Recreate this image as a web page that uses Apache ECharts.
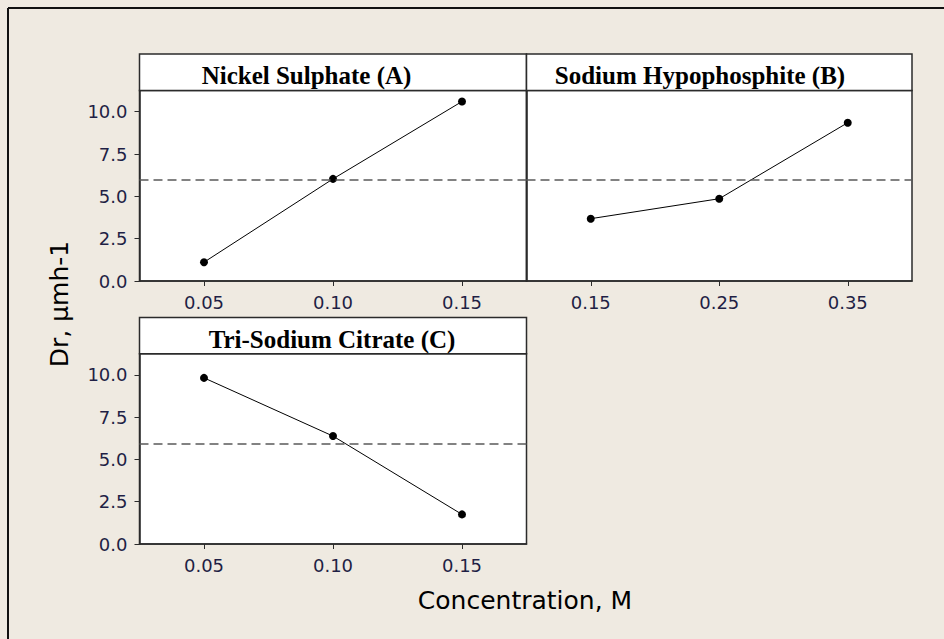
<!DOCTYPE html>
<html>
<head>
<meta charset="utf-8">
<script src="https://cdn.jsdelivr.net/npm/echarts@6/dist/echarts.min.js"></script>
<style>
html,body{margin:0;padding:0;background:#efeae1;}
#chart{width:944px;height:639px;}
</style>
</head>
<body>
<div id="chart"></div>
<script>
// ---- data ----
const panelTitles = ['Nickel Sulphate (A)', 'Sodium Hypophosphite (B)', 'Tri-Sodium Citrate (C)'];
const xA = [0.05, 0.10, 0.15];
const yA = [1.11, 6.03, 10.60];
const xB = [0.15, 0.25, 0.35];
const yB = [3.68, 4.86, 9.35];
const xC = [0.05, 0.10, 0.15];
const yC = [9.82, 6.38, 1.75];
const xTicksA = [0.05, 0.10, 0.15];
const xTicksB = [0.15, 0.25, 0.35];
const xTicksC = [0.05, 0.10, 0.15];
const yTicks = [0, 2.5, 5, 7.5, 10];
const yAxisTitle = 'Dr, μmh-1';
const xAxisTitle = 'Concentration, M';
const allValues = yA.concat(yB, yC);
const grandMean = allValues.reduce((s, v) => s + v, 0) / allValues.length;

// ---- styling / layout ----
const frameColor = '#2b2b2b';
const tickColor = '#1f1f45';
const sansFont = '"DejaVu Sans", sans-serif';
const serifFont = '"Liberation Serif", "Times New Roman", serif';

const grids = [
  {left: 139.5, top: 90.5, width: 387, height: 190.5},
  {left: 526.5, top: 90.5, width: 385.5, height: 190.5},
  {left: 139.5, top: 353.7, width: 387, height: 190.3}
];
const headers = [
  {x: 139.5, y: 54, w: 387, h: 36.5, cx: 306.5, ty: 75.5},
  {x: 526.5, y: 54, w: 385.5, h: 36.5, cx: 700, ty: 75.5},
  {x: 139.5, y: 317.5, w: 387, h: 36.2, cx: 332, ty: 339}
];

function pairs(xs, ys) { return xs.map((x, i) => [x, ys[i]]); }

function makeX(idx, min, max, ticks) {
  return {
    type: 'value', gridIndex: idx, min: min, max: max,
    splitLine: {show: false},
    axisLine: {show: true, onZero: false, lineStyle: {color: frameColor, width: 1.5}},
    axisTick: {show: true, length: 5, customValues: ticks, lineStyle: {color: frameColor, width: 1}},
    axisLabel: {show: true, customValues: ticks, margin: 12, color: tickColor,
      fontFamily: sansFont, fontSize: 18, formatter: v => Number(v).toFixed(2)}
  };
}
function makeY(idx, showLabels) {
  return {
    type: 'value', gridIndex: idx, min: 0, max: 11.25,
    splitLine: {show: false},
    axisLine: {show: true, onZero: false, lineStyle: {color: frameColor, width: 1.5}},
    axisTick: {show: showLabels, length: 5, customValues: yTicks, lineStyle: {color: frameColor, width: 1}},
    axisLabel: {show: showLabels, customValues: yTicks, margin: 12, color: tickColor,
      fontFamily: sansFont, fontSize: 18, formatter: v => Number(v).toFixed(1)}
  };
}
function makeSeries(idx, data) {
  return {
    type: 'line', xAxisIndex: idx, yAxisIndex: idx, data: data,
    symbol: 'circle', symbolSize: 8, showSymbol: true,
    itemStyle: {color: '#000'},
    lineStyle: {color: '#000', width: 1},
    animation: false,
    markLine: {
      silent: true, symbol: 'none', label: {show: false},
      lineStyle: {color: '#5a5a5a', type: [9, 5], width: 1.5},
      data: [{yAxis: grandMean}]
    }
  };
}

const graphic = [];
headers.forEach((h, i) => {
  graphic.push({
    type: 'rect', shape: {x: h.x, y: h.y, width: h.w, height: h.h},
    style: {fill: '#fff', stroke: frameColor, lineWidth: 1.5}, z: 10
  });
  graphic.push({
    type: 'text', x: h.cx, y: h.ty, z: 11,
    style: {text: panelTitles[i], fill: '#000', fontFamily: serifFont, fontWeight: 'bold',
      fontSize: 25, textAlign: 'center', textVerticalAlign: 'middle', verticalAlign: 'middle'}
  });
});
// outer frame (left and top edges)
graphic.push({type: 'line', shape: {x1: 8, y1: 8, x2: 8, y2: 639}, style: {stroke: '#111', lineWidth: 2}, z: 12});
graphic.push({type: 'line', shape: {x1: 8, y1: 8, x2: 944, y2: 8}, style: {stroke: '#111', lineWidth: 2}, z: 12});
// axis titles
graphic.push({
  type: 'text', x: 59, y: 304, rotation: Math.PI / 2, z: 11,
  style: {text: yAxisTitle, fill: '#000', fontFamily: sansFont, fontSize: 25,
    textAlign: 'center', textVerticalAlign: 'middle', verticalAlign: 'middle'}
});
graphic.push({
  type: 'text', x: 525, y: 600, z: 11,
  style: {text: xAxisTitle, fill: '#000', fontFamily: sansFont, fontSize: 25,
    textAlign: 'center', textVerticalAlign: 'middle', verticalAlign: 'middle'}
});

const option = {
  backgroundColor: '#efeae1',
  animation: false,
  grid: grids.map(g => Object.assign({show: true, backgroundColor: '#fff', borderColor: frameColor, borderWidth: 1.5}, g)),
  xAxis: [makeX(0, 0.025, 0.175, xTicksA), makeX(1, 0.10, 0.40, xTicksB), makeX(2, 0.025, 0.175, xTicksC)],
  yAxis: [makeY(0, true), makeY(1, false), makeY(2, true)],
  series: [makeSeries(0, pairs(xA, yA)), makeSeries(1, pairs(xB, yB)), makeSeries(2, pairs(xC, yC))],
  graphic: graphic
};

const chart = echarts.init(document.getElementById('chart'), null, {renderer: 'svg'});
chart.setOption(option);
</script>
</body>
</html>
